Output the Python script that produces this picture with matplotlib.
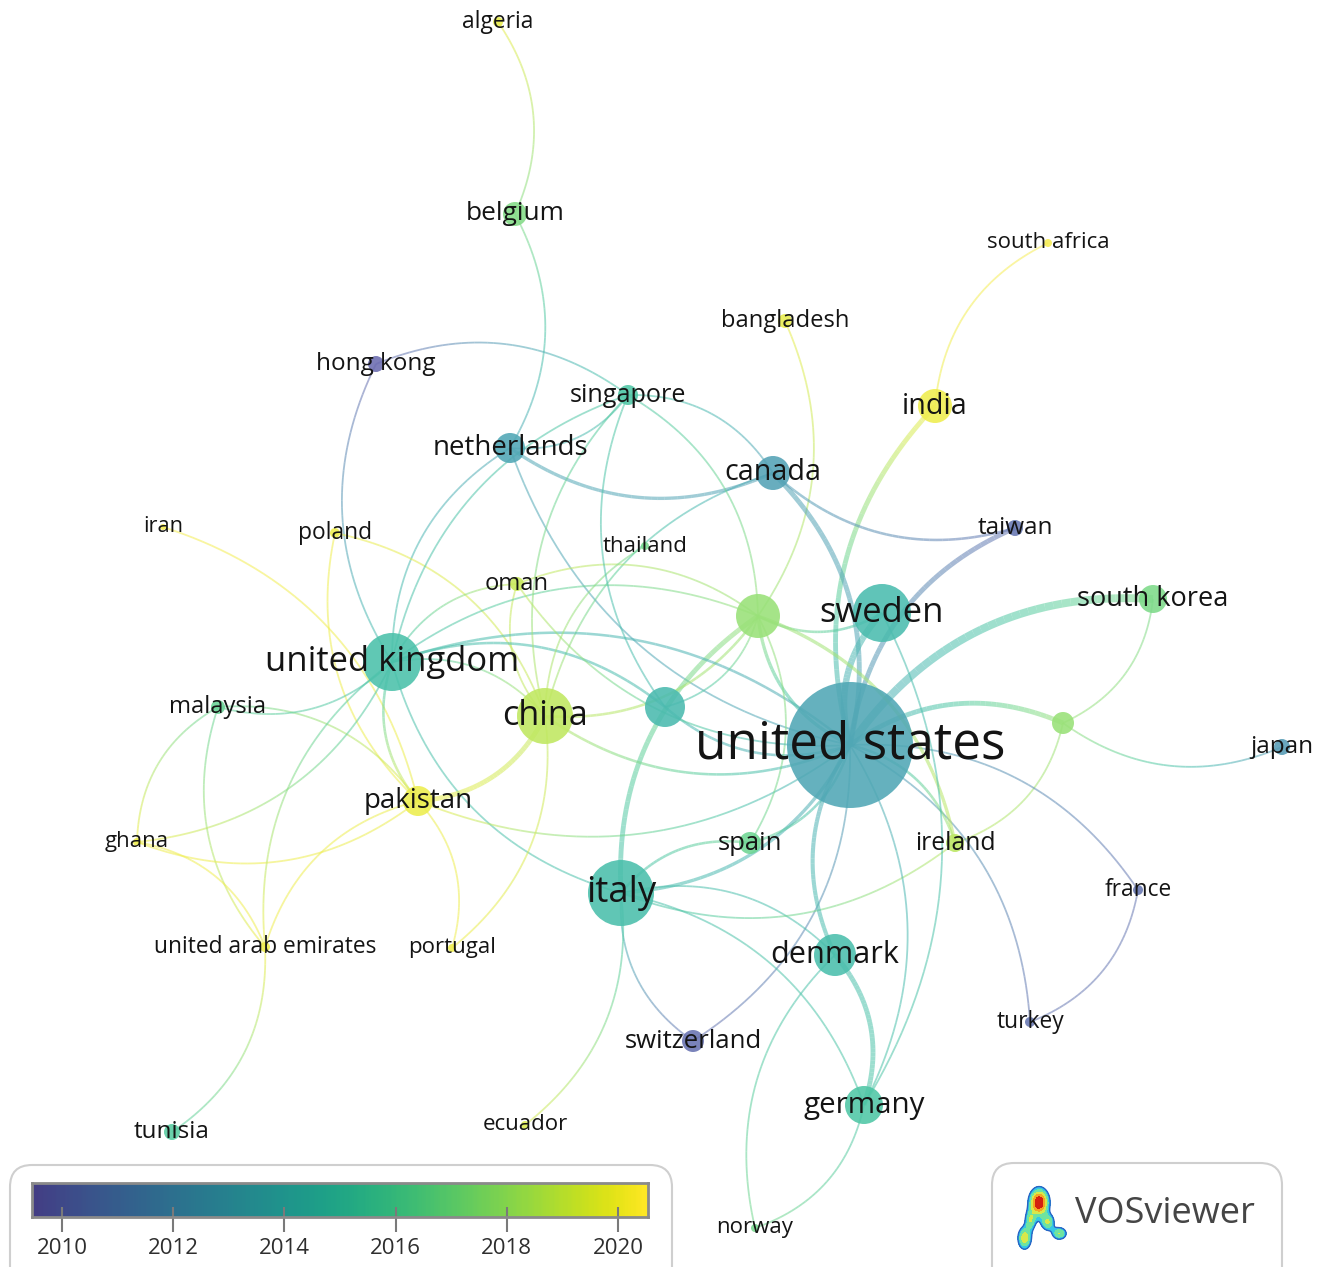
import numpy as np
import matplotlib.pyplot as plt
from matplotlib.collections import LineCollection
from matplotlib.patches import Circle, FancyBboxPatch
from matplotlib.colors import Normalize, ListedColormap, rgb_to_hsv, hsv_to_rgb

W, H = 1323, 1267

# nodes: label, x, y (pixel layout of the map), weight (node radius), average publication year
# names starting with "_" are nodes whose label is hidden in the map
node_names = ["algeria", "belgium", "south africa", "bangladesh", "hong kong", "singapore",
              "india", "netherlands", "canada", "iran", "poland", "thailand", "taiwan",
              "oman", "_a", "sweden", "south korea", "united kingdom", "china", "_b",
              "malaysia", "_c", "united states", "japan", "pakistan", "ghana", "spain",
              "ireland", "france", "italy", "united arab emirates", "portugal", "denmark",
              "turkey", "switzerland", "germany", "tunisia", "ecuador", "norway"]
node_x = [498, 515, 1048, 785, 376, 628, 935, 510, 773, 163, 335, 645, 1015,
          517, 758, 882, 1153, 392, 545, 665, 218, 1063, 850, 1282, 418, 137, 750,
          955, 1138, 621, 265, 452, 835, 1030, 693, 864, 172, 525, 755]
node_y = [22, 214, 243, 321, 364, 395, 406, 448, 473, 527, 533, 546, 528,
          584, 616, 613, 599, 662, 716, 707, 707, 723, 745, 747, 801, 842, 843,
          843, 890, 893, 947, 948, 955, 1022, 1041, 1105, 1132, 1125, 1228]
node_weight = [5, 12, 4, 7, 8, 10, 17, 15, 17, 3, 5, 4, 8,
               7, 22, 29, 14, 29, 28, 20, 7, 11, 63, 8, 15, 4, 11,
               9, 5, 33, 5, 4, 21, 5, 11, 19, 8, 4, 4]
node_year = [2019.8, 2017.2, 2020.3, 2019.8, 2009.7, 2015.2, 2020.0, 2012.9, 2012.6,
             2020.2, 2020.0, 2016.8, 2010.2, 2019.0, 2017.8, 2014.3, 2017.0, 2014.7,
             2018.8, 2014.2, 2016.3, 2017.8, 2012.9, 2012.2, 2019.9, 2020.0, 2016.5,
             2018.7, 2010.2, 2014.6, 2020.0, 2020.0, 2014.5, 2010.2, 2010.0, 2015.1,
             2015.6, 2019.5, 2016.8]

# links: (from, to, strength); arcs bend to the right of the from->to direction
links = [
    ("belgium", "algeria", 1), ("netherlands", "belgium", 1),
    ("singapore", "hong kong", 1), ("canada", "singapore", 1),
    ("hong kong", "united kingdom", 1), ("netherlands", "canada", 2),
    ("netherlands", "united kingdom", 1), ("netherlands", "singapore", 1),
    ("netherlands", "united states", 1), ("south africa", "india", 1),
    ("india", "united states", 3), ("_a", "bangladesh", 1),
    ("united states", "canada", 3), ("canada", "taiwan", 1.5),
    ("taiwan", "united states", 3), ("canada", "china", 1),
    ("south korea", "united states", 5), ("_c", "united states", 3),
    ("_c", "south korea", 1), ("_c", "japan", 1), ("ireland", "_c", 1),
    ("france", "united states", 1), ("turkey", "united states", 1),
    ("turkey", "france", 1), ("italy", "switzerland", 1),
    ("switzerland", "united states", 1), ("ecuador", "italy", 1),
    ("germany", "italy", 1), ("denmark", "italy", 1), ("spain", "italy", 1.5),
    ("italy", "ireland", 1), ("germany", "denmark", 3),
    ("germany", "united states", 1), ("norway", "germany", 1),
    ("denmark", "norway", 1), ("united states", "denmark", 2.5),
    ("_a", "italy", 3), ("italy", "united states", 2),
    ("united kingdom", "italy", 1), ("pakistan", "united states", 1),
    ("pakistan", "iran", 1), ("poland", "pakistan", 1), ("china", "poland", 1),
    ("pakistan", "malaysia", 1), ("malaysia", "united arab emirates", 1),
    ("malaysia", "ghana", 1), ("ghana", "united kingdom", 1),
    ("ghana", "pakistan", 1), ("united arab emirates", "ghana", 1),
    ("pakistan", "united arab emirates", 1), ("united kingdom", "united arab emirates", 1),
    ("tunisia", "united arab emirates", 1), ("portugal", "pakistan", 1),
    ("portugal", "china", 1), ("pakistan", "china", 3),
    ("united kingdom", "pakistan", 1.5), ("china", "united kingdom", 1),
    ("oman", "china", 1), ("oman", "united kingdom", 1), ("_a", "oman", 1),
    ("china", "_a", 1.5), ("china", "united states", 1.5),
    ("_b", "united kingdom", 1.5), ("_a", "united kingdom", 1),
    ("united states", "united kingdom", 1.5), ("_b", "united states", 1.5),
    ("_b", "_a", 1), ("thailand", "china", 1), ("singapore", "_b", 1),
    ("singapore", "united kingdom", 1), ("_a", "singapore", 1),
    ("singapore", "china", 1), ("_a", "sweden", 1.5), ("_a", "united states", 2),
    ("sweden", "united states", 4), ("ireland", "_a", 2),
    ("ireland", "united states", 1.5), ("spain", "united states", 1.5),
    ("spain", "_a", 1), ("germany", "sweden", 1),
    ("malaysia", "united kingdom", 1), ("oman", "united states", 1),
]

year_ticks = [2010, 2012, 2014, 2016, 2018, 2020]
year_min, year_max = 2009.46, 2020.54

# VOSviewer's overlay scale: viridis without its darkest purple end
cmap = ListedColormap(plt.get_cmap("viridis")(np.linspace(0.18, 1.0, 256)))
norm = Normalize(year_min, year_max)
idx = {n: i for i, n in enumerate(node_names)}


def soft(years, alpha):
    # the map draws items as lighter, less saturated versions of the scale colours
    rgba = np.atleast_2d(cmap(norm(years)))
    hsv = rgb_to_hsv(rgba[:, :3])
    hsv[:, 1] *= 0.76
    hsv[:, 2] += (1 - hsv[:, 2]) * 0.34
    out = np.ones((len(rgba), 4))
    out[:, :3] = hsv_to_rgb(hsv)
    out[:, 3] = alpha
    return out


fig = plt.figure(figsize=(W / 100, H / 100), dpi=100)
ax = fig.add_axes([0, 0, 1, 1])
ax.set_xlim(0, W)
ax.set_ylim(H, 0)
ax.axis("off")

# curved, colour-graded links
t = np.linspace(0, 1, 41)[:, None]
for a, b, s in links:
    i, j = idx[a], idx[b]
    A = np.array([node_x[i], node_y[i]], float)
    B = np.array([node_x[j], node_y[j]], float)
    d = B - A
    C = (A + B) / 2 + 0.28 * np.array([-d[1], d[0]])
    pts = (1 - t) ** 2 * A + 2 * (1 - t) * t * C + t ** 2 * B
    segs = np.stack([pts[:-1], pts[1:]], axis=1)
    yrs = node_year[i] + (node_year[j] - node_year[i]) * (t[:-1, 0] + t[1:, 0]) / 2
    ax.add_collection(LineCollection(segs, colors=soft(yrs, 0.55),
                                     linewidths=1.3 + 1.1 * (s - 1), zorder=1))

# nodes and labels
for n, x, y, w, yr in zip(node_names, node_x, node_y, node_weight, node_year):
    ax.add_patch(Circle((x, y), w, facecolor=soft(yr, 0.88)[0], lw=0, zorder=2))
    if not n.startswith("_"):
        fs = 14.6 + 0.355 * w
        ax.text(x, y, n, ha="center", va="center", fontsize=fs, family="Open Sans",
                color="#141414", zorder=3)

# colour legend
ax.add_patch(FancyBboxPatch((10, 1165), 662, 130, boxstyle="round,pad=0,rounding_size=22",
                            facecolor="white", edgecolor="#cfcfcf", lw=1.5, zorder=4))
cax = fig.add_axes([32 / W, 1 - 1217 / H, 616 / W, 34 / H])
cax.imshow(np.linspace(year_min, year_max, 400)[None, :], cmap=cmap, norm=norm,
           aspect="auto", extent=[year_min, year_max, 0, 1])
cax.set_xlim(year_min, year_max)
cax.set_ylim(0, 1)
cax.set_xticks([])
cax.set_yticks([])
for sp in cax.spines.values():
    sp.set_color("#8a8a8a")
    sp.set_linewidth(2)
cax.vlines(year_ticks, -0.44, 0.29, color="#7a7a7a", lw=1.5, clip_on=False)
for yt in year_ticks:
    cax.text(yt, -0.92, str(yt), ha="center", va="center", fontsize=16,
             family="Open Sans", color="#2e2e2e")

# VOSviewer badge
ax.add_patch(FancyBboxPatch((992, 1163), 290, 130, boxstyle="round,pad=0,rounding_size=22",
                            facecolor="white", edgecolor="#cfcfcf", lw=1.5, zorder=4))
ax.text(1075, 1214, "VOSviewer", ha="left", va="center", fontsize=26, family="Open Sans",
        color="#454545", zorder=5)
lax = fig.add_axes([1013 / W, 1 - 1250 / H, 58 / W, 66 / H])
gx, gy = np.meshgrid(np.linspace(0, 1, 140), np.linspace(0, 1, 160))


def blob(cx, cy, sx, sy, amp):
    return amp * np.exp(-(((gx - cx) / sx) ** 2 + ((gy - cy) / sy) ** 2))


dens = (blob(0.45, 0.72, 0.15, 0.19, 1.0) + blob(0.3, 0.45, 0.09, 0.15, 0.45)
        + blob(0.2, 0.18, 0.11, 0.16, 0.6) + blob(0.6, 0.42, 0.11, 0.12, 0.5)
        + blob(0.8, 0.25, 0.12, 0.09, 0.5))
lax.contourf(gx, gy, dens, levels=[0.2, 0.35, 0.5, 0.65, 0.82, 3],
             colors=["#34c8e6", "#6fe3a0", "#d8e84a", "#f5a623", "#d42010"])
lax.contour(gx, gy, dens, levels=[0.2], colors=["#2a62c4"], linewidths=1)
lax.set_xlim(0, 1)
lax.set_ylim(0, 1)
lax.axis("off")

fig.savefig("out.png", dpi=100)
